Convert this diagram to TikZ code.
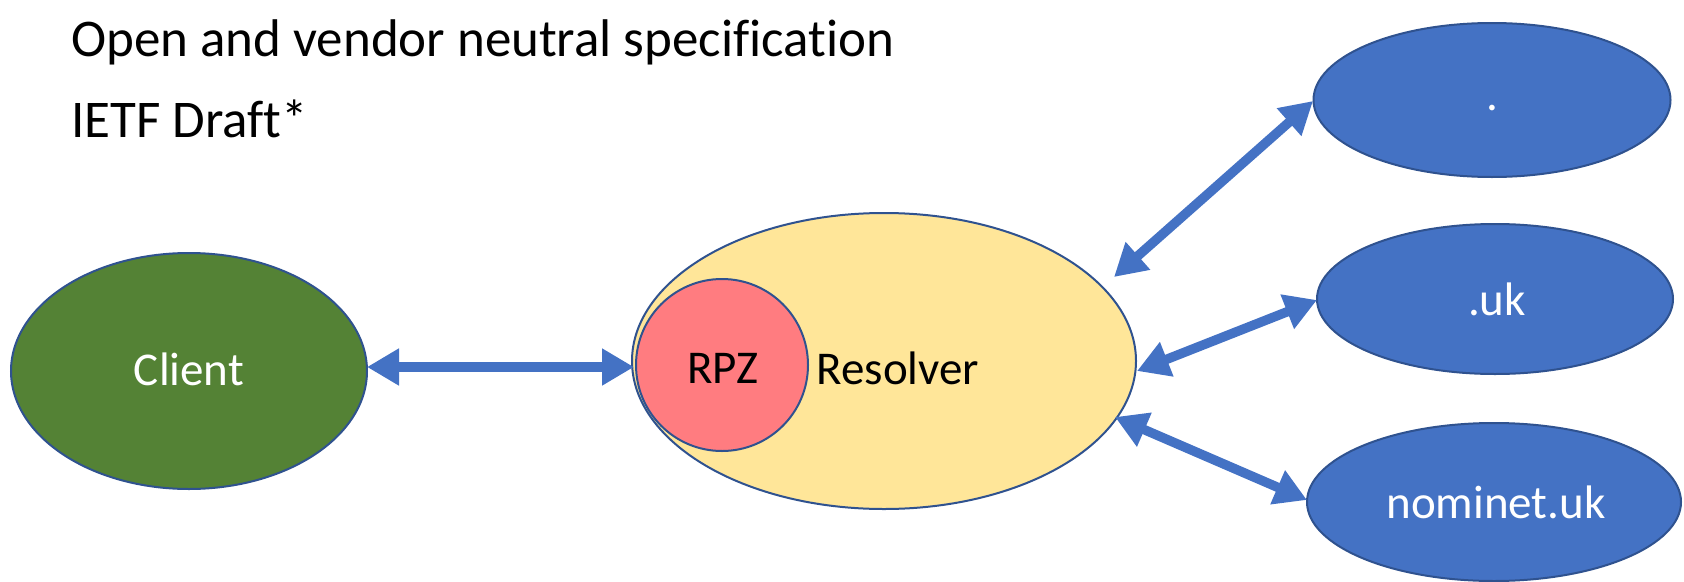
\documentclass[tikz,border=0pt]{standalone}
\usepackage{fontspec}
\setmainfont{Carlito}[RawFeature={-liga;-clig;-calt}]
\usetikzlibrary{arrows.meta,shapes.geometric}
\definecolor{obl}{HTML}{4472C4}
\definecolor{oline}{HTML}{2F528F}
\definecolor{ogr}{HTML}{548235}
\definecolor{oyl}{HTML}{FFE699}
\definecolor{orp}{HTML}{FF7C80}
\tikzset{
  shp/.style={ellipse, draw=oline, line width=2pt, inner sep=0pt},
  lbl/.style={font=\fontsize{47}{56}\selectfont, inner sep=0pt},
  hdr/.style={font=\fontsize{53}{64}\selectfont, inner sep=0pt, anchor=base west},
  dbl/.style={draw=obl, line width=9.5pt, {Triangle[width=35pt,length=32pt]}-{Triangle[width=35pt,length=32pt]}}
}
\begin{document}
\begin{tikzpicture}[x=1pt,y=-1pt]
\useasboundingbox (0,0) rectangle (1684,581);
\node[hdr] (h1) at (71,56) {Open and vendor neutral specification};
\node[hdr] (h2) at (71,137) {IETF Draft*};
\node[shp, fill=ogr, minimum width=356pt, minimum height=236pt] (client) at (189,371) {};
\node[lbl, text=white] (clientt) at (189,369) {Client};
\node[shp, fill=oyl, minimum width=504pt, minimum height=296pt] (res) at (884,361) {};
\node[shp, circle, fill=orp, minimum size=172pt] (rpz) at (722,365) {};
\node[lbl] (rpzt) at (723,368) {RPZ};
\node[lbl] (rest) at (898,368) {Resolver};
\node[shp, fill=obl, minimum width=357pt, minimum height=154pt] (dot) at (1492,100) {};
\node[lbl, text=white] (dott) at (1492,108) {.};
\node[shp, fill=obl, minimum width=356pt, minimum height=150pt] (uk) at (1495,299) {};
\node[lbl, text=white] (ukt) at (1497,299) {.uk};
\node[shp, fill=obl, minimum width=374pt, minimum height=158pt] (nom) at (1494,502) {};
\node[lbl, text=white] (nomt) at (1496,502) {nominet.uk};
\coordinate (c1) at (367,367);
\coordinate (c2) at (634,367);
\coordinate (r1) at (1114,277);
\coordinate (d1) at (1313,101);
\coordinate (r2) at (1137,371);
\coordinate (u1) at (1317,300);
\coordinate (r3) at (1115,417);
\coordinate (n1) at (1307,500);
\draw[dbl] (c1) -- (c2);
\draw[dbl] (r1) -- (d1);
\draw[dbl] (r2) -- (u1);
\draw[dbl] (r3) -- (n1);
\end{tikzpicture}
\end{document}
